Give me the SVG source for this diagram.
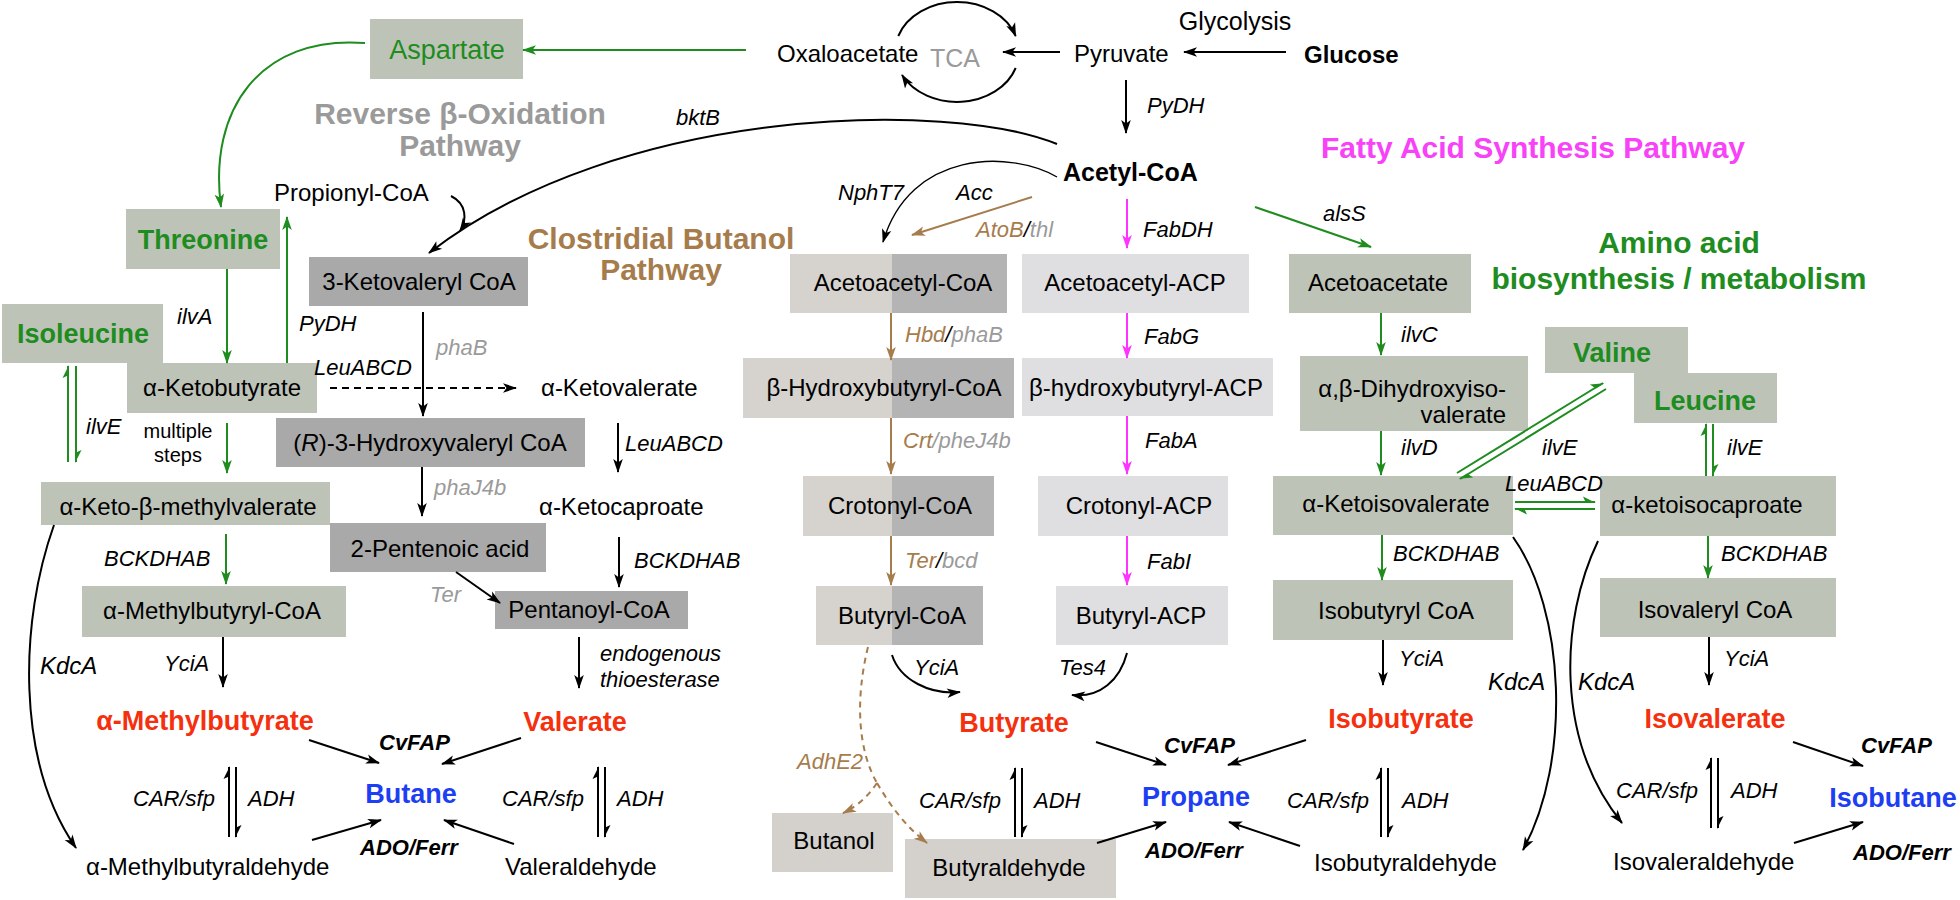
<svg xmlns="http://www.w3.org/2000/svg" width="1960" height="900" viewBox="0 0 1960 900">
<style>
text{font-family:"Liberation Sans",Arial,Helvetica,sans-serif;font-size:24px;fill:#000}
.c{text-anchor:middle}
.e{text-anchor:end}
.i{font-style:italic;font-size:22px}
.k{font-style:italic;font-size:24px}
.bi{font-style:italic;font-weight:bold;font-size:22px}
.b{font-weight:bold}
.h{font-weight:bold;font-size:30px}
.g{fill:#1e8c1e}
.gw{fill:#1e8c1e;font-weight:bold;font-size:27px}
.red{fill:#f5300f;font-weight:bold;font-size:27px}
.blu{fill:#1d3ef2;font-weight:bold;font-size:27px}
.gr{fill:#9a9a9a}
.br{fill:#a67c4c}
.mg{fill:#f742f7}
.bxg{fill:#bec3b8}
.bxd{fill:#a9a9a9}
.sl{fill:#d6d2ce}
.sr{fill:#b4b4b4}
.acp{fill:#dfdee0}
.wm{fill:#d4d0cc}
.l{fill:none;stroke:#000;stroke-width:2}
.lg{fill:none;stroke:#1e8c1e;stroke-width:2}
.lm{fill:none;stroke:#ff33ff;stroke-width:2}
.lb{fill:none;stroke:#a67c4c;stroke-width:2}
</style>
<defs>
<marker id="ak" viewBox="-14 -6 16 12" refX="0" refY="0" markerWidth="16" markerHeight="12" orient="auto" markerUnits="userSpaceOnUse"><path d="M1,0 L-13,-4.8 L-9.5,0 L-13,4.8 z" fill="#000"/></marker>
<marker id="ag" viewBox="-14 -6 16 12" refX="0" refY="0" markerWidth="16" markerHeight="12" orient="auto" markerUnits="userSpaceOnUse"><path d="M1,0 L-13,-4.8 L-9.5,0 L-13,4.8 z" fill="#1e8c1e"/></marker>
<marker id="am" viewBox="-14 -6 16 12" refX="0" refY="0" markerWidth="16" markerHeight="12" orient="auto" markerUnits="userSpaceOnUse"><path d="M1,0 L-13,-4.8 L-9.5,0 L-13,4.8 z" fill="#ff33ff"/></marker>
<marker id="an" viewBox="-14 -6 16 12" refX="0" refY="0" markerWidth="16" markerHeight="12" orient="auto" markerUnits="userSpaceOnUse"><path d="M1,0 L-13,-4.8 L-9.5,0 L-13,4.8 z" fill="#a67c4c"/></marker>
<marker id="hk" viewBox="-14 -7 16 9" refX="0" refY="0" markerWidth="16" markerHeight="9" orient="auto" markerUnits="userSpaceOnUse"><path d="M1,1 L-12,-5.5 L-9,1 z" fill="#000"/></marker>
<marker id="hg" viewBox="-14 -7 16 9" refX="0" refY="0" markerWidth="16" markerHeight="9" orient="auto" markerUnits="userSpaceOnUse"><path d="M1,1 L-12,-5.5 L-9,1 z" fill="#1e8c1e"/></marker>
</defs>
<rect width="1960" height="900" fill="#fff"/>

<g id="labels">
<text class="h gr c" x="460" y="124">Reverse β-Oxidation</text>
<text class="h gr c" x="460" y="156">Pathway</text>
<text class="h br c" x="661" y="249">Clostridial Butanol</text>
<text class="h br c" x="661" y="280">Pathway</text>
<text class="h mg c" x="1533" y="158">Fatty Acid Synthesis Pathway</text>
<text class="h g c" x="1679" y="253">Amino acid</text>
<text class="h g c" x="1679" y="289">biosynthesis / metabolism</text>
</g>

<g id="glycolysis"><text class="c" x="1235" y="30" style="font-size:25px">Glycolysis</text></g>
<g id="glucose"><text class="b" x="1304" y="63">Glucose</text></g>
<g id="pyruvate"><text x="1074" y="62">Pyruvate</text></g>
<g id="oxaloacetate"><text x="777" y="62">Oxaloacetate</text></g>
<g id="tca"><text class="gr" x="930" y="67" style="font-size:25px">TCA</text></g>
<g id="acetylcoa"><text class="b" x="1063" y="181" style="font-size:25px">Acetyl-CoA</text></g>
<g id="aspartate"><rect class="bxg" x="370" y="19" width="153" height="60"/><text class="g c" x="447" y="59" style="font-size:27px">Aspartate</text></g>
<g id="propionylcoa"><text x="274" y="201">Propionyl-CoA</text></g>
<g id="threonine"><rect class="bxg" x="126" y="209" width="154" height="60"/><text class="gw c" x="203" y="249">Threonine</text></g>
<g id="isoleucine"><rect class="bxg" x="2" y="304" width="161" height="59"/><text class="gw c" x="83" y="343">Isoleucine</text></g>
<g id="ketobutyrate"><rect class="bxg" x="127" y="363" width="190" height="50"/><text class="c" x="222" y="396">α-Ketobutyrate</text></g>
<g id="ketovalerylcoa"><rect class="bxd" x="309" y="257" width="219" height="49"/><text class="c" x="419" y="290">3-Ketovaleryl CoA</text></g>
<g id="hydroxyvalerylcoa"><rect class="bxd" x="276" y="418" width="309" height="49"/><text class="c" x="430" y="451">(<tspan font-style="italic">R</tspan>)-3-Hydroxyvaleryl CoA</text></g>
<g id="ketovalerate"><text x="541" y="396">α-Ketovalerate</text></g>
<g id="ketomethylvalerate"><rect class="bxg" x="41" y="482" width="289" height="43"/><text class="c" x="188" y="515">α-Keto-β-methylvalerate</text></g>
<g id="ketocaproate"><text x="539" y="515">α-Ketocaproate</text></g>
<g id="pentenoic"><rect class="bxd" x="330" y="523" width="216" height="49"/><text class="c" x="440" y="557">2-Pentenoic acid</text></g>
<g id="methylbutyrylcoa"><rect class="bxg" x="82" y="586" width="264" height="51"/><text class="c" x="212" y="619">α-Methylbutyryl-CoA</text></g>
<g id="pentanoylcoa"><rect class="bxd" x="495" y="591" width="193" height="38"/><text class="c" x="589" y="618">Pentanoyl-CoA</text></g>
<g id="methylbutyrate"><text class="red c" x="205" y="730">α-Methylbutyrate</text></g>
<g id="valerate"><text class="red c" x="575" y="731">Valerate</text></g>
<g id="butane"><text class="blu c" x="411" y="803">Butane</text></g>
<g id="methylbutyraldehyde"><text x="86" y="875">α-Methylbutyraldehyde</text></g>
<g id="valeraldehyde"><text x="505" y="875">Valeraldehyde</text></g>

<g id="acetoacetylcoa"><rect class="sl" x="790" y="254" width="102" height="59"/><rect class="sr" x="892" y="254" width="115" height="59"/><text class="c" x="903" y="291">Acetoacetyl-CoA</text></g>
<g id="hydroxybutyrylcoa"><rect class="sl" x="743" y="358" width="149" height="60"/><rect class="sr" x="892" y="358" width="122" height="60"/><text class="c" x="884" y="396">β-Hydroxybutyryl-CoA</text></g>
<g id="crotonylcoa"><rect class="sl" x="803" y="476" width="89" height="60"/><rect class="sr" x="892" y="476" width="102" height="60"/><text class="c" x="900" y="514">Crotonyl-CoA</text></g>
<g id="butyrylcoa"><rect class="sl" x="816" y="586" width="76" height="59"/><rect class="sr" x="892" y="586" width="91" height="59"/><text class="c" x="902" y="624">Butyryl-CoA</text></g>
<g id="acetoacetylacp"><rect class="acp" x="1022" y="254" width="227" height="59"/><text class="c" x="1135" y="291">Acetoacetyl-ACP</text></g>
<g id="hydroxybutyrylacp"><rect class="acp" x="1022" y="358" width="251" height="58"/><text class="c" x="1146" y="396">β-hydroxybutyryl-ACP</text></g>
<g id="crotonylacp"><rect class="acp" x="1038" y="476" width="190" height="60"/><text class="c" x="1139" y="514">Crotonyl-ACP</text></g>
<g id="butyrylacp"><rect class="acp" x="1056" y="586" width="172" height="59"/><text class="c" x="1141" y="624">Butyryl-ACP</text></g>
<g id="butyrate"><text class="red c" x="1014" y="732">Butyrate</text></g>
<g id="propane"><text class="blu c" x="1196" y="806">Propane</text></g>
<g id="butanol"><rect class="wm" x="772" y="813" width="121" height="59"/><text class="c" x="834" y="849">Butanol</text></g>
<g id="butyraldehyde"><rect class="wm" x="905" y="839" width="211" height="59"/><text class="c" x="1009" y="876">Butyraldehyde</text></g>

<g id="acetoacetate"><rect class="bxg" x="1289" y="254" width="182" height="59"/><text class="c" x="1378" y="291">Acetoacetate</text></g>
<g id="dihydroxyisovalerate"><rect class="bxg" x="1300" y="356" width="228" height="75"/><text class="e" x="1506" y="397">α,β-Dihydroxyiso-</text><text class="e" x="1506" y="423">valerate</text></g>
<g id="valine"><rect class="bxg" x="1545" y="327" width="143" height="46"/><text class="gw c" x="1612" y="362">Valine</text></g>
<g id="leucine"><rect class="bxg" x="1634" y="373" width="143" height="50"/><text class="gw c" x="1705" y="410">Leucine</text></g>
<g id="ketoisovalerate"><rect class="bxg" x="1273" y="476" width="240" height="59"/><text class="c" x="1396" y="512">α-Ketoisovalerate</text></g>
<g id="ketoisocaproate"><rect class="bxg" x="1600" y="476" width="236" height="60"/><text class="c" x="1707" y="513">α-ketoisocaproate</text></g>
<g id="isobutyrylcoa"><rect class="bxg" x="1273" y="580" width="240" height="60"/><text class="c" x="1396" y="619">Isobutyryl CoA</text></g>
<g id="isovalerylcoa"><rect class="bxg" x="1600" y="578" width="236" height="59"/><text class="c" x="1715" y="618">Isovaleryl CoA</text></g>
<g id="isobutyrate"><text class="red c" x="1401" y="728">Isobutyrate</text></g>
<g id="isovalerate"><text class="red c" x="1715" y="728">Isovalerate</text></g>
<g id="isobutane"><text class="blu c" x="1893" y="807">Isobutane</text></g>
<g id="isobutyraldehyde"><text x="1314" y="871">Isobutyraldehyde</text></g>
<g id="isovaleraldehyde"><text x="1613" y="870">Isovaleraldehyde</text></g>

<g id="connectors">
<path class="l" d="M1286,52 L1184,52" marker-end="url(#ak)"/>
<path class="l" d="M1060,52 L1003,52" marker-end="url(#ak)"/>
<path class="l" d="M898.3,36 A62,50 0 0 1 1015.7,36" marker-end="url(#ak)"/>
<path class="l" d="M1015.7,68 A62,50 0 0 1 902,75" marker-end="url(#ak)"/>
<path class="lg" d="M746,50 L523,50" marker-end="url(#ag)"/>
<path class="lg" d="M365,43 C260,35 208,110 221,207" marker-end="url(#ag)"/>
<path class="l" d="M1126,80 L1126,133" marker-end="url(#ak)"/>
<path class="l" d="M1057,144 C950,100 620,105 429,253" marker-end="url(#ak)"/>
<path class="l" d="M451,196 C467,204 467,220 460,231" marker-end="url(#ak)"/>
<path class="lg" d="M227,269 L227,363" marker-end="url(#ag)"/>
<path class="lg" d="M287,363 L287,217" marker-end="url(#ag)"/>
<path class="lg" d="M68,462 L68,366" marker-end="url(#hg)"/>
<path class="lg" d="M76,366 L76,462" marker-end="url(#hg)"/>
<path class="lg" d="M227,423 L227,473" marker-end="url(#ag)"/>
<path class="l" d="M330,388 L516,388" stroke-dasharray="7,5" marker-end="url(#ak)"/>
<path class="l" d="M423,312 L423,416" marker-end="url(#ak)"/>
<path class="l" d="M422,467 L422,516" marker-end="url(#ak)"/>
<path class="l" d="M456,572 L500,603" marker-end="url(#ak)"/>
<path class="l" d="M618,423 L618,472" marker-end="url(#ak)"/>
<path class="l" d="M619,537 L619,587" marker-end="url(#ak)"/>
<path class="lg" d="M226,534 L226,584" marker-end="url(#ag)"/>
<path class="l" d="M223,637 L223,687" marker-end="url(#ak)"/>
<path class="l" d="M579,637 L579,688" marker-end="url(#ak)"/>
<path class="l" d="M54,525 C20,620 15,760 76,848" marker-end="url(#ak)"/>
<path class="l" d="M309,740 L379,763" marker-end="url(#ak)"/>
<path class="l" d="M521,738 L442,764" marker-end="url(#ak)"/>
<path class="l" d="M312,840 L381,820" marker-end="url(#ak)"/>
<path class="l" d="M514,844 L444,820" marker-end="url(#ak)"/>
<path class="l" d="M229,837 L229,767" marker-end="url(#hk)"/>
<path class="l" d="M236,767 L236,837" marker-end="url(#hk)"/>
<path class="l" d="M598,837 L598,767" marker-end="url(#hk)"/>
<path class="l" d="M605,767 L605,837" marker-end="url(#hk)"/>
<path class="l" d="M1057,177 C1010,150 910,150 883,242" style="stroke-width:1.4" marker-end="url(#ak)"/>
<path class="lb" d="M1032,197 L912,235" marker-end="url(#an)"/>
<path class="lm" d="M1127,199 L1127,248" marker-end="url(#am)"/>
<path class="lg" d="M1255,207 L1371,247" marker-end="url(#ag)"/>
<path class="lb" d="M891,313 L891,360" marker-end="url(#an)"/>
<path class="lm" d="M1127,313 L1127,358" marker-end="url(#am)"/>
<path class="lb" d="M891,418 L891,474" marker-end="url(#an)"/>
<path class="lm" d="M1127,416 L1127,474" marker-end="url(#am)"/>
<path class="lb" d="M891,536 L891,585" marker-end="url(#an)"/>
<path class="lm" d="M1127,536 L1127,585" marker-end="url(#am)"/>
<path class="l" d="M892,655 C900,680 930,695 960,692" marker-end="url(#ak)"/>
<path class="l" d="M1127,653 C1120,680 1100,698 1072,695" marker-end="url(#ak)"/>
<path class="lb" d="M868,647 C855,700 858,750 877,783" stroke-dasharray="6,5"/>
<path class="lb" d="M877,783 C868,796 858,806 843,813" stroke-dasharray="6,5" marker-end="url(#an)"/>
<path class="lb" d="M877,783 C890,805 905,826 927,843" stroke-dasharray="6,5" marker-end="url(#an)"/>
<path class="l" d="M1015,837 L1015,768" marker-end="url(#hk)"/>
<path class="l" d="M1022,768 L1022,837" marker-end="url(#hk)"/>
<path class="l" d="M1096,742 L1166,765" marker-end="url(#ak)"/>
<path class="l" d="M1306,740 L1228,765" marker-end="url(#ak)"/>
<path class="l" d="M1097,843 L1166,822" marker-end="url(#ak)"/>
<path class="l" d="M1300,846 L1229,822" marker-end="url(#ak)"/>
<path class="lg" d="M1381,313 L1381,355" marker-end="url(#ag)"/>
<path class="lg" d="M1381,431 L1381,475" marker-end="url(#ag)"/>
<path class="lg" d="M1457,473 L1603,383" marker-end="url(#hg)"/>
<path class="lg" d="M1606,389 L1460,479" marker-end="url(#hg)"/>
<path class="lg" d="M1706,476 L1706,424" marker-end="url(#hg)"/>
<path class="lg" d="M1713,424 L1713,476" marker-end="url(#hg)"/>
<path class="lg" d="M1515,502 L1595,502" marker-end="url(#hg)"/>
<path class="lg" d="M1595,509 L1515,509" marker-end="url(#hg)"/>
<path class="lg" d="M1382,535 L1382,580" marker-end="url(#ag)"/>
<path class="lg" d="M1708,536 L1708,578" marker-end="url(#ag)"/>
<path class="l" d="M1383,640 L1383,685" marker-end="url(#ak)"/>
<path class="l" d="M1709,637 L1709,685" marker-end="url(#ak)"/>
<path class="l" d="M1513,537 C1565,610 1572,760 1523,850" marker-end="url(#ak)"/>
<path class="l" d="M1598,541 C1560,620 1555,740 1622,823" marker-end="url(#ak)"/>
<path class="l" d="M1381,837 L1381,768" marker-end="url(#hk)"/>
<path class="l" d="M1388,768 L1388,837" marker-end="url(#hk)"/>
<path class="l" d="M1711,828 L1711,758" marker-end="url(#hk)"/>
<path class="l" d="M1718,758 L1718,828" marker-end="url(#hk)"/>
<path class="l" d="M1793,742 L1863,766" marker-end="url(#ak)"/>
<path class="l" d="M1794,843 L1863,822" marker-end="url(#ak)"/>
</g>

<g id="enzymes">
<text class="i" x="1147" y="113">PyDH</text>
<text class="i" x="676" y="125">bktB</text>
<text class="i" x="838" y="200">NphT7</text>
<text class="i" x="956" y="200">Acc</text>
<text class="i" x="976" y="237"><tspan class="br">AtoB</tspan>/<tspan class="gr">thl</tspan></text>
<text class="i" x="1143" y="237">FabDH</text>
<text class="i" x="1323" y="221">alsS</text>
<text class="i" x="905" y="342"><tspan class="br">Hbd</tspan>/<tspan class="gr">phaB</tspan></text>
<text class="i" x="1144" y="344">FabG</text>
<text class="i" x="1401" y="342">ilvC</text>
<text class="i" x="903" y="448"><tspan class="br">Crt</tspan><tspan class="gr">/pheJ4b</tspan></text>
<text class="i" x="1145" y="448">FabA</text>
<text class="i" x="905" y="568"><tspan class="br">Ter</tspan>/<tspan class="gr">bcd</tspan></text>
<text class="i" x="1147" y="569">FabI</text>
<text class="i" x="1401" y="455">ilvD</text>
<text class="i" x="1542" y="455">ilvE</text>
<text class="i" x="1727" y="455">ilvE</text>
<text class="i" x="1505" y="491">LeuABCD</text>
<text class="i" x="1393" y="561">BCKDHAB</text>
<text class="i" x="1721" y="561">BCKDHAB</text>
<text class="i" x="1399" y="666">YciA</text>
<text class="i" x="1724" y="666">YciA</text>
<text class="k" x="1488" y="690">KdcA</text>
<text class="k" x="1578" y="690">KdcA</text>
<text class="i" x="177" y="324">ilvA</text>
<text class="i" x="299" y="331">PyDH</text>
<text class="i" x="314" y="375">LeuABCD</text>
<text class="i gr" x="436" y="355">phaB</text>
<text class="i" x="86" y="434">ilvE</text>
<text x="178" y="438" class="c" style="font-size:20px">multiple</text>
<text x="178" y="462" class="c" style="font-size:20px">steps</text>
<text class="i" x="625" y="451">LeuABCD</text>
<text class="i gr" x="434" y="495">phaJ4b</text>
<text class="i" x="104" y="566">BCKDHAB</text>
<text class="i" x="634" y="568">BCKDHAB</text>
<text class="i gr" x="430" y="602">Ter</text>
<text class="i" x="164" y="671">YciA</text>
<text class="i" x="600" y="661">endogenous</text>
<text class="i" x="600" y="687">thioesterase</text>
<text class="k" x="40" y="674">KdcA</text>
<text class="i" x="914" y="675">YciA</text>
<text class="i" x="1059" y="675">Tes4</text>
<text class="i br" x="797" y="769">AdhE2</text>
<text class="bi" x="379" y="750">CvFAP</text>
<text class="bi" x="1164" y="753">CvFAP</text>
<text class="bi" x="1861" y="753">CvFAP</text>
<text class="bi" x="360" y="855">ADO/Ferr</text>
<text class="bi" x="1145" y="858">ADO/Ferr</text>
<text class="bi" x="1853" y="860">ADO/Ferr</text>
<text class="i" x="133" y="806">CAR/sfp</text>
<text class="i" x="248" y="806">ADH</text>
<text class="i" x="502" y="806">CAR/sfp</text>
<text class="i" x="617" y="806">ADH</text>
<text class="i" x="919" y="808">CAR/sfp</text>
<text class="i" x="1034" y="808">ADH</text>
<text class="i" x="1287" y="808">CAR/sfp</text>
<text class="i" x="1402" y="808">ADH</text>
<text class="i" x="1616" y="798">CAR/sfp</text>
<text class="i" x="1731" y="798">ADH</text>
</g>
</svg>
